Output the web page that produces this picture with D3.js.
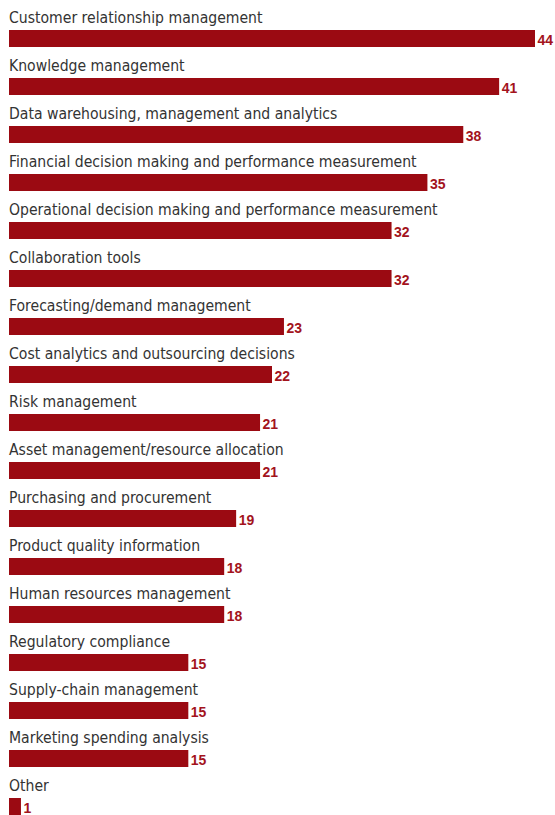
<!DOCTYPE html>
<html>
<head>
<meta charset="utf-8">
<script src="https://cdn.jsdelivr.net/npm/d3@7"></script>
<style>
  html, body { margin: 0; padding: 0; background: #fff; }
  svg { display: block; }
</style>
</head>
<body>
<svg id="chart" width="555" height="815"></svg>
<script>
// Areas where analytics is used (share of respondents)
const categories = [
  "Customer relationship management",
  "Knowledge management",
  "Data warehousing, management and analytics",
  "Financial decision making and performance measurement",
  "Operational decision making and performance measurement",
  "Collaboration tools",
  "Forecasting/demand management",
  "Cost analytics and outsourcing decisions",
  "Risk management",
  "Asset management/resource allocation",
  "Purchasing and procurement",
  "Product quality information",
  "Human resources management",
  "Regulatory compliance",
  "Supply-chain management",
  "Marketing spending analysis",
  "Other"
];
const values = [44, 41, 38, 35, 32, 32, 23, 22, 21, 21, 19, 18, 18, 15, 15, 15, 1];

const svg = d3.select("#chart");
const left = 9;
const rowPitch = 48;
const barTop = 30;
const barH = 17;

const x = d3.scaleLinear().domain([0, 44]).range([left, 535]);
const y = d3.scaleBand()
  .domain(categories)
  .range([0, rowPitch * categories.length])
  .paddingInner(0).paddingOuter(0);

const rows = svg.selectAll("g.row")
  .data(categories.map((c, i) => ({ c, v: values[i] })))
  .join("g")
  .attr("class", "row")
  .attr("transform", d => `translate(0,${y(d.c)})`);

rows.append("text")
  .attr("x", left)
  .attr("y", 23)
  .attr("fill", "#333")
  .style("font-family", "'DejaVu Sans Condensed', sans-serif")
  .style("font-size", "15.6px")
  .text(d => d.c);

rows.append("rect")
  .attr("x", x(0))
  .attr("y", barTop)
  .attr("width", d => x(d.v) - x(0))
  .attr("height", barH)
  .attr("fill", "#9b0a12");

rows.append("text")
  .attr("x", d => x(d.v) + 2.5)
  .attr("y", 45)
  .attr("fill", "#a3131c")
  .style("font-family", "'Liberation Sans', sans-serif")
  .style("font-weight", "bold")
  .style("font-size", "14px")
  .text(d => d.v);
</script>
</body>
</html>
